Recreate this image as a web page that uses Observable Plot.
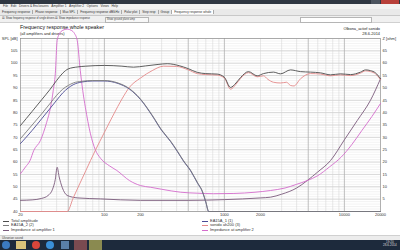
<!DOCTYPE html>
<html><head><meta charset="utf-8">
<script src="https://cdn.jsdelivr.net/npm/d3@7"></script>
<script src="https://cdn.jsdelivr.net/npm/@observablehq/plot@0.6"></script>
<style>
html,body{margin:0;padding:0;width:400px;height:250px;overflow:hidden;background:#fff;font-family:"Liberation Sans",Arial,sans-serif;}
#wrap{position:relative;width:400px;height:250px;background:#fff;}
.abs{position:absolute;white-space:nowrap;line-height:1;}
#chart{position:absolute;left:0;top:23px;}
.sw{position:absolute;height:0;border-top:1px solid;}
</style></head><body><div id="wrap">
<!-- window chrome -->
<div class="abs" style="left:0;top:0;width:400px;height:4px;background:#2f3742;"></div>
<div class="abs" style="left:371px;top:0;width:9px;height:4px;background:#4d5560;"></div>
<div class="abs" style="left:381px;top:0;width:18px;height:4px;background:#b8403a;"></div>
<div class="abs" style="left:0;top:4px;width:400px;height:5px;background:#f2f2f2;font-size:3.2px;color:#333;padding-left:3px;box-sizing:border-box;line-height:5px;">File&nbsp;&nbsp;&nbsp;Edit&nbsp;&nbsp;&nbsp;Drivers &amp; Enclosures&nbsp;&nbsp;&nbsp;Amplifier 1&nbsp;&nbsp;&nbsp;Amplifier 2&nbsp;&nbsp;&nbsp;Options&nbsp;&nbsp;&nbsp;Views&nbsp;&nbsp;&nbsp;Help</div>
<div class="abs" style="left:0;top:9px;width:400px;height:7px;background:#e9e9e9;border-bottom:1px solid #c8c8c8;box-sizing:border-box;font-size:3.1px;color:#333;line-height:6px;">
<span style="border-right:1px solid #aaa;padding:0 2px;">Frequency response</span><span style="border-right:1px solid #aaa;padding:0 2px;">Phase response</span><span style="border-right:1px solid #aaa;padding:0 2px;">Max SPL</span><span style="border-right:1px solid #aaa;padding:0 2px;">Frequency response dB/kHz</span><span style="border-right:1px solid #aaa;padding:0 2px;">Polar plot</span><span style="border-right:1px solid #aaa;padding:0 2px;">Step resp</span><span style="border-right:1px solid #aaa;padding:0 2px;">Group</span><span style="border-right:1px solid #aaa;padding:0 2px;background:#fff;">Frequency response whole</span></div>
<div class="abs" style="left:0;top:16px;width:400px;height:7px;background:#f0f0f0;border-bottom:1px solid #d0d0d0;box-sizing:border-box;"></div>
<div class="abs" style="left:2px;top:17.5px;font-size:2.6px;color:#333;">&#9746; Show frequency response of single drivers</div>
<div class="abs" style="left:55px;top:17.5px;font-size:2.6px;color:#333;">&#9746; Show impedance response</div>
<div class="abs" style="left:105px;top:17px;width:42px;height:4px;border:1px solid #b5b5b5;background:#f7f7f7;font-size:2.6px;color:#444;line-height:4px;">&nbsp;Show ground plane amp</div>
<div class="abs" style="left:300px;top:17px;width:70px;height:4px;border:1px solid #b5b5b5;background:#fff;"></div>

<!-- chart header -->
<div class="abs" style="left:20px;top:25px;font-size:5.3px;color:#111;">Frequency response whole speaker</div>
<div class="abs" style="left:20px;top:31.5px;font-size:3.9px;color:#222;">(all amplifiers and drivers)</div>
<div class="abs" style="right:20px;top:26.5px;font-size:3.9px;color:#222;text-align:right;">Olbona_actief sonido</div>
<div class="abs" style="right:20px;top:31.5px;font-size:3.9px;color:#222;text-align:right;">28-6-2014</div>

<div id="chart"></div>

<!-- legend -->
<div id="legend"></div>

<!-- status bar and taskbar -->
<div class="abs" style="left:0;top:235px;width:400px;height:5px;background:#ececec;border-top:1px solid #d0d0d0;box-sizing:border-box;font-size:3px;color:#444;line-height:4px;padding-left:2px;">Ukranian sound</div>
<div class="abs" style="left:0;top:240px;width:400px;height:10px;background:#1d2a3c;"></div>
<div class="abs" style="left:2px;top:241px;width:8px;height:8px;border-radius:50%;background:#3b7ac2;"></div>
<div class="abs" style="left:16px;top:241px;width:10px;height:8px;background:#d8c27a;"></div>
<div class="abs" style="left:32px;top:241px;width:8px;height:8px;border-radius:50%;background:#d9463b;"></div>
<div class="abs" style="left:46px;top:241px;width:8px;height:8px;border-radius:50%;background:#3a8fd8;"></div>
<div class="abs" style="left:61px;top:241px;width:8px;height:8px;background:#5a7fa8;"></div>
<div class="abs" style="left:74px;top:240px;width:13px;height:10px;background:#7a4a50;"></div>
<div class="abs" style="left:89px;top:240px;width:13px;height:10px;background:#8a8a50;"></div>
<div class="abs" style="left:383px;top:241px;font-size:3px;color:#ddd;text-align:center;">19:20<br>28-6-2014</div>
</div>
<script>
// ---- data ----
const freqTickLabels = [20, 50, 100, 200, 500, 1000, 2000, 5000, 10000, 20000];
const splTickValues = [40, 45, 50, 55, 60, 65, 70, 75, 80, 85, 90, 95, 100, 105];
const zTickValues = [5, 10, 15, 20, 25, 30, 35, 40, 45, 50, 55, 60, 65];
const splUnit = "SPL [dB]";
const zUnit = "Z [ohm]";

const totalFreq = [20,25,30,35,40,45,50,60,70,100,140,175,220,280,334,420,500,594,700,871,1000,1125,1250,1363,1589,1877,2119,2566,2936,3556,4309,5222,6325,7663,9283,11247,13626,15000,16510,18170,20000];
const totalSPL  = [74.8,80.5,85.2,89.2,93,96,97.7,98.5,98.8,99.1,98.8,98.4,98.9,99.5,99.8,99,97.8,96.3,95.8,95.6,94.3,90.2,92,94.2,96.6,94.9,95.8,96.4,95.7,97.3,96.6,96.4,96.1,95.3,95.7,95.4,96.4,97.3,97,96.1,93.7];

const woof2Freq = [20,25,30,35,40,45,50,55,65,80,100,130,162,200,250,300,355,404,456,524,600,652,700,740,20000];
const woof2SPL  = [69.5,75,79.5,83.5,87,89.5,91,92,92.7,93,93,92,89.7,85.5,79,73,68.6,64.6,60.6,56.6,51.5,48.5,44,40,40];
const woof1Freq = [20,25,30,35,40,45,50,55,65,80,100,130,162,200,250,300,355,404,456,524,600,652,700,740,20000];
const woof1SPL  = [67.5,72.8,77.5,81.5,85,88,90,91.3,92.4,92.8,92.8,91.8,89.5,85.3,78.8,72.8,68.4,64.4,60.4,56.4,51.3,48.3,43.8,40,40];

const sonidoFreq = [20,49,55,60,70,84,100,120,140,162,200,250,312,400,500,594,700,871,1000,1125,1250,1363,1589,1877,2119,2300,2566,2936,3300,3556,3800,4309,5222,6325,7663,9283,11247,13626,15000,16510,18170,20000];
const sonidoSPL  = [40,40,45.5,49.5,56.5,64.7,72,79.5,85.5,90.3,94,97,98.8,98.7,97.3,95.8,95.4,95.2,94,89.5,91.5,93.8,96.2,94.5,94.9,93.5,92.3,92,92.3,91,90.8,93.7,95.8,95.6,94.9,95.3,95,96,96.9,96.6,95.7,93.3];

const zAmp1Freq = [20,25,30,34,37,39,40.4,42,44.5,49,60,93,200,500,1000,2000,2427,3000,4000,4900,6000,7663,10000,12800,16500,20000];
const zAmp1Ohm  = [4.5,4.7,5.3,6.5,9,13,17.9,14,9.8,6.5,5.5,5.1,4.5,4.5,4.8,5.5,5.8,7,9.5,12.5,16,20.6,29,36.8,45,53.7];
const zAmp2Freq = [20,22,24,25.8,29.3,33,35.6,37.5,39,40.4,42.3,45,49,53,56.4,59.4,63,66,69.4,76.6,84,93,110,127,162,200,243,300,433,600,812,1200,1800,2427,3200,4000,4900,6000,7500,9400,11500,14000,17000,20000];
const zAmp2Ohm  = [15.3,18,20.6,24.7,28.7,36,42.2,49,55.7,69.2,72,73.3,73.8,73.3,72,69.2,57,49,42.2,31.4,25,21.5,18.5,16.6,12.5,10.5,9.8,9,7.8,7.4,7.2,7.3,7.8,8.5,9.5,11,12.5,14.5,18,22,27,32.8,38.5,43.7];

const seriesNames = ["Total amplitude","EA15A_2 (2)","Impedance at amplifier 1","EA15A_1 (1)","sonido ah200 (3)","Impedance at amplifier 2"];
const seriesColors = ["#4d4d4d","#7d7d7d","#7a5a7c","#4b4b94","#e48a8a","#d46ccc"];

// ---- build ----
const zip = (fs, vs) => fs.map((f, i) => ({f, v: vs[i]}));
const zOffset = 40; // Z axis: 0 ohm sits on the 40 dB line, 1 ohm per dB
const minorFreqs = [];
for (let dec of [10, 100, 1000, 10000]) for (let k = 1; k <= 9; k++) { const f = k * dec; if (f >= 20 && f <= 20000) minorFreqs.push(f); }
const majorFreqs = [50, 100, 500, 1000, 5000, 10000];

const lineOpts = (c) => ({x: "f", y: "v", stroke: c, strokeWidth: 0.9, curve: "monotone-x"});
const zLineOpts = (c) => ({x: "f", y: d => d.v + zOffset, stroke: c, strokeWidth: 0.9, curve: "monotone-x"});

const chart = Plot.plot({
  width: 400, height: 200,
  marginTop: 15, marginBottom: 12, marginLeft: 20, marginRight: 20,
  style: {fontFamily: "Liberation Sans, Arial, sans-serif", fontSize: "4px", color: "#333", background: "transparent", overflow: "visible"},
  x: {type: "log", domain: [20, 20000]},
  y: {domain: [40, 110]},
  marks: [
    Plot.ruleY(d3.range(40, 111, 1), {stroke: "#e6e6e6", strokeWidth: 0.5}),
    Plot.ruleY(d3.range(40, 111, 5), {stroke: "#bdbdbd", strokeWidth: 0.5}),
    Plot.ruleX(minorFreqs, {stroke: "#d2d2d2", strokeWidth: 0.5}),
    Plot.ruleX(majorFreqs, {stroke: "#9a9a9a", strokeWidth: 0.5}),
    Plot.frame({stroke: "#8a8a8a", strokeWidth: 0.6}),
    Plot.axisX({ticks: freqTickLabels, tickSize: 0, tickPadding: 2, tickFormat: d => String(d), label: null}),
    Plot.axisY({anchor: "left", ticks: [...splTickValues, 110], tickSize: 0, tickPadding: 3, label: null,
      tickFormat: d => d === 110 ? splUnit : String(d)}),
    Plot.axisY({anchor: "right", ticks: [...zTickValues.map(z => z + zOffset), 110], tickSize: 0, tickPadding: 2, label: null,
      tickFormat: d => d === 110 ? zUnit : String(d - zOffset)}),
    Plot.line(zip(zAmp1Freq, zAmp1Ohm), zLineOpts(seriesColors[2])),
    Plot.line(zip(zAmp2Freq, zAmp2Ohm), zLineOpts(seriesColors[5])),
    Plot.line(zip(sonidoFreq, sonidoSPL), lineOpts(seriesColors[4])),
    Plot.line(zip(woof1Freq, woof1SPL), lineOpts(seriesColors[3])),
    Plot.line(zip(woof2Freq, woof2SPL), lineOpts(seriesColors[1])),
    Plot.line(zip(totalFreq, totalSPL), lineOpts(seriesColors[0]))
  ]
});
document.getElementById("chart").appendChild(chart);

// legend
const leg = document.getElementById("legend");
seriesNames.forEach((name, i) => {
  const col = Math.floor(i / 3), row = i % 3;
  const lx = col === 0 ? 3 : 202, tx = col === 0 ? 11 : 210, y = 220.5 + row * 4.6;
  const sw = document.createElement("div");
  sw.className = "sw";
  sw.style.cssText = `left:${lx}px;top:${y}px;width:6px;border-top:1px solid ${seriesColors[i]};`;
  leg.appendChild(sw);
  const t = document.createElement("div");
  t.className = "abs";
  t.style.cssText = `left:${tx}px;top:${y - 2}px;font-size:4px;color:#333;`;
  t.textContent = name;
  leg.appendChild(t);
});
</script>
</body></html>
